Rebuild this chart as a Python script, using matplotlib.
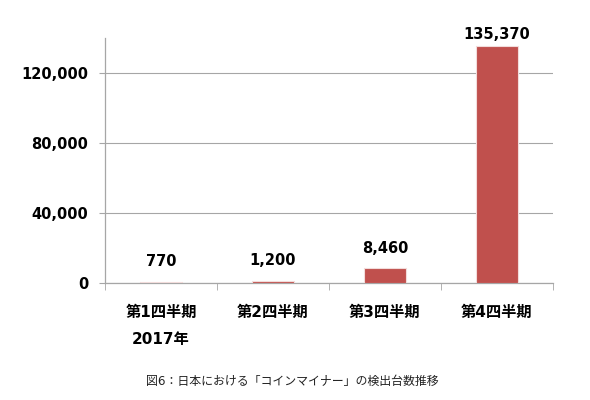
import numpy as np
import matplotlib.pyplot as plt
from matplotlib.ticker import FuncFormatter

plt.rcParams['font.family'] = ['DejaVu Sans', 'Noto Sans CJK JP']

# Data
categories = ['第1四半期\n2017年', '第2四半期', '第3四半期', '第4四半期']
counts = [770, 1200, 8460, 135370]
yticks = [0, 40000, 80000, 120000]
caption = '図6：日本における「コインマイナー」の検出台数推移'

fig = plt.figure(figsize=(5.9, 4.0), dpi=100)
ax = fig.add_axes([0.178, 0.2925, 0.759, 0.6125])

x = np.arange(len(categories))
ax.bar(x, counts, width=0.38, color='#C0504D', edgecolor='#F2DCDB', linewidth=0.8, zorder=3)

# value labels (the tallest one sits tight on the bar, like the original)
for xi, v in zip(x, counts):
    off = 3 if v == max(counts) else 9
    ax.annotate(f'{v:,}', (xi, v), xytext=(0, off), textcoords='offset points',
                ha='center', va='bottom', fontsize=10.5, fontweight='bold')

ax.set_xlim(-0.5, len(categories) - 0.5)
ax.set_ylim(0, 140000)
ax.set_yticks(yticks)
ax.yaxis.set_major_formatter(FuncFormatter(lambda v, p: f'{int(v):,}'))
ax.grid(axis='y', color='#A6A6A6', linewidth=0.8, zorder=0)

ax.set_xticks(x)
ax.set_xticklabels(categories, fontsize=11, fontweight='bold', linespacing=2.0, va='top')
ax.set_xticks(np.arange(-0.5, len(categories)), minor=True)
ax.tick_params(axis='x', which='major', length=0, pad=16)
ax.tick_params(axis='x', which='minor', length=5, color='#A6A6A6', direction='out')
ax.tick_params(axis='y', length=4, color='#A6A6A6', pad=8)
for lbl in ax.get_yticklabels():
    lbl.set_fontsize(10.5)
    lbl.set_fontweight('bold')

for side in ['top', 'right']:
    ax.spines[side].set_visible(False)
for side in ['left', 'bottom']:
    ax.spines[side].set_color('#A6A6A6')
    ax.spines[side].set_linewidth(0.9)

fig.text(0.495, 1 - 381 / 400, caption, ha='center', va='center', fontsize=8.6, color='#222222')

fig.savefig('out.png', dpi=100)
